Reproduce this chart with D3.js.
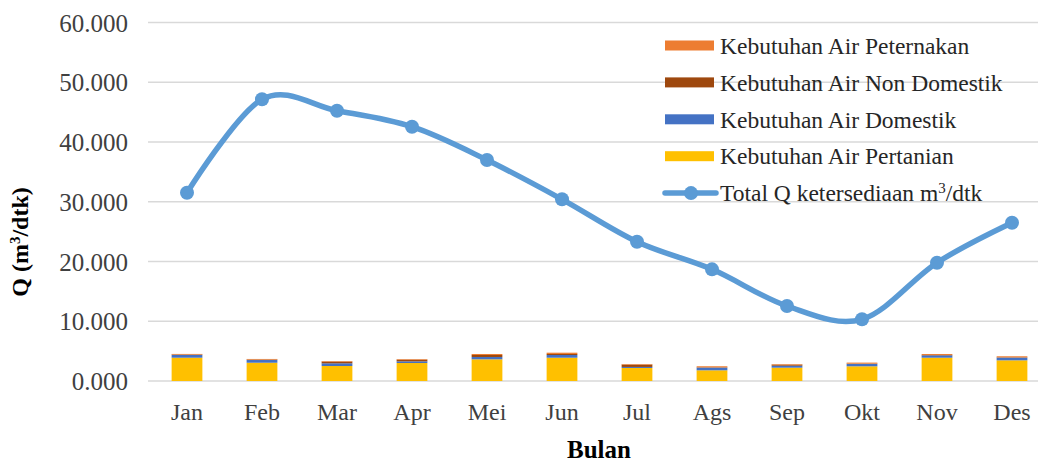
<!DOCTYPE html>
<html>
<head>
<meta charset="utf-8">
<script src="https://cdn.jsdelivr.net/npm/d3@7"></script>
<style>
  body { margin: 0; background: #fff; }
  svg { display: block; font-family: "Liberation Serif", "Times New Roman", serif; }
</style>
</head>
<body>
<script>
var months = ['Jan', 'Feb', 'Mar', 'Apr', 'Mei', 'Jun', 'Jul', 'Ags', 'Sep', 'Okt', 'Nov', 'Des'];

// stacked demand bars (m3/dtk)
var pertanian    = [3.90, 3.06, 2.51, 3.01, 3.63, 3.90, 2.18, 1.79, 2.23, 2.46, 3.90, 3.46];
var domestik     = [0.45, 0.45, 0.45, 0.28, 0.39, 0.45, 0.17, 0.45, 0.33, 0.39, 0.39, 0.45];
var nonDomestik  = [0.08, 0.08, 0.28, 0.28, 0.33, 0.17, 0.39, 0.06, 0.17, 0.06, 0.06, 0.06];
var peternakan   = [0.10, 0.10, 0.10, 0.10, 0.17, 0.22, 0.10, 0.17, 0.10, 0.17, 0.17, 0.17];

// total available discharge
var totalQ = [31.50, 47.15, 45.24, 42.56, 36.99, 30.41, 23.31, 18.69, 12.55, 10.33, 19.80, 26.49];

var yTicks = [0, 10, 20, 30, 40, 50, 60];

var WIDTH  = 1038;
var HEIGHT = 463;

var seriesKeys   = ['pertanian', 'domestik', 'nonDomestik', 'peternakan'];
var seriesNames  = {
  pertanian: 'Kebutuhan Air Pertanian',
  domestik: 'Kebutuhan Air Domestik',
  nonDomestik: 'Kebutuhan Air Non Domestik',
  peternakan: 'Kebutuhan Air Peternakan'
};
var seriesColors = {
  pertanian: '#FFC000',
  domestik: '#4472C4',
  nonDomestik: '#9E480E',
  peternakan: '#ED7D31'
};
var lineColor = '#5B9BD5';

var rows = months.map(function(m, i) {
  return {
    month: m,
    pertanian: pertanian[i],
    domestik: domestik[i],
    nonDomestik: nonDomestik[i],
    peternakan: peternakan[i],
    total: totalQ[i]
  };
});

var svg = d3.select('body')
            .append('svg')
            .attr('width', WIDTH)
            .attr('height', HEIGHT);

var x = d3.scaleBand()
          .domain(months)
          .range([149.5, 1049.5])
          .paddingInner(0.59)
          .paddingOuter(0.295);

var y = d3.scaleLinear()
          .domain([0, 60])
          .range([381, 22.5]);

// gridlines
svg.append('g')
   .selectAll('line')
   .data(yTicks)
   .enter()
 .append('line')
   .attr('x1', 148)
   .attr('x2', WIDTH)
   .attr('y1', function(d) { return y(d); })
   .attr('y2', function(d) { return y(d); })
   .attr('stroke', '#D9D9D9')
   .attr('stroke-width', 1.6);

// y axis labels
var yAxis = d3.axisLeft(y)
              .tickValues(yTicks)
              .tickSize(0)
              .tickPadding(0)
              .tickFormat(function(d) { return d3.format('.3f')(d); });

svg.append('g')
   .attr('transform', 'translate(128,0)')
   .call(yAxis)
   .call(function(g) { g.select('.domain').remove(); })
   .selectAll('text')
   .attr('font-family', '"Liberation Serif", serif')
   .attr('font-size', 25)
   .attr('fill', '#404040')
   .attr('dy', '0.34em');

// x axis labels
var xAxis = d3.axisBottom(x).tickSize(0).tickPadding(0);

svg.append('g')
   .attr('transform', 'translate(0,403)')
   .call(xAxis)
   .call(function(g) { g.select('.domain').remove(); })
   .selectAll('text')
   .attr('font-family', '"Liberation Serif", serif')
   .attr('font-size', 24)
   .attr('fill', '#404040')
   .attr('dy', '0.71em');

// stacked bars
var stack = d3.stack().keys(seriesKeys);
var layers = stack(rows);

svg.append('g')
   .selectAll('g')
   .data(layers)
   .enter()
 .append('g')
   .attr('fill', function(d) { return seriesColors[d.key]; })
   .selectAll('rect')
   .data(function(d) { return d; })
   .enter()
 .append('rect')
   .attr('x', function(d) { return x(d.data.month); })
   .attr('width', x.bandwidth())
   .attr('y', function(d) { return y(d[1]); })
   .attr('height', function(d) { return y(d[0]) - y(d[1]); });

// total Q line
var line = d3.line()
             .x(function(d) { return x(d.month) + x.bandwidth() / 2; })
             .y(function(d) { return y(d.total); })
             .curve(d3.curveCardinal.tension(0));

svg.append('path')
   .datum(rows)
   .attr('d', line)
   .attr('fill', 'none')
   .attr('stroke', lineColor)
   .attr('stroke-width', 5.5)
   .attr('stroke-linecap', 'round');

svg.append('g')
   .selectAll('circle')
   .data(rows)
   .enter()
 .append('circle')
   .attr('cx', function(d) { return x(d.month) + x.bandwidth() / 2; })
   .attr('cy', function(d) { return y(d.total); })
   .attr('r', 7)
   .attr('fill', lineColor);

// axis titles
svg.append('text')
   .attr('transform', 'translate(28,242) rotate(-90)')
   .attr('text-anchor', 'middle')
   .attr('font-size', 24)
   .attr('font-weight', 'bold')
   .attr('fill', '#000')
   .html('Q (m<tspan baseline-shift="super" font-size="15">3</tspan>/dtk)');

svg.append('text')
   .attr('x', 599)
   .attr('y', 458)
   .attr('text-anchor', 'middle')
   .attr('font-size', 25)
   .attr('font-weight', 'bold')
   .attr('fill', '#000')
   .text('Bulan');

// legend
var legendKeys = ['peternakan', 'nonDomestik', 'domestik', 'pertanian'];
var legend = svg.append('g');
var legendY0 = 45.5;
var legendStep = 36.9;

legendKeys.forEach(function(k, i) {
  var cy = legendY0 + i * legendStep;
  legend.append('rect')
        .attr('x', 665)
        .attr('y', cy - 5)
        .attr('width', 49)
        .attr('height', 10)
        .attr('fill', seriesColors[k]);
  legend.append('text')
        .attr('x', 720)
        .attr('y', cy)
        .attr('dy', '0.35em')
        .attr('font-size', 23.5)
        .attr('fill', '#262626')
        .text(seriesNames[k]);
});

var lineLegendY = legendY0 + 4 * legendStep;
legend.append('line')
      .attr('x1', 665)
      .attr('x2', 716)
      .attr('y1', lineLegendY)
      .attr('y2', lineLegendY)
      .attr('stroke', lineColor)
      .attr('stroke-width', 5.5)
      .attr('stroke-linecap', 'round');
legend.append('circle')
      .attr('cx', 691)
      .attr('cy', lineLegendY)
      .attr('r', 7)
      .attr('fill', lineColor);
legend.append('text')
      .attr('x', 720)
      .attr('y', lineLegendY)
      .attr('dy', '0.35em')
      .attr('font-size', 23.5)
      .attr('fill', '#262626')
      .html('Total Q ketersediaan m<tspan baseline-shift="super" font-size="15">3</tspan>/dtk');
</script>
</body>
</html>
